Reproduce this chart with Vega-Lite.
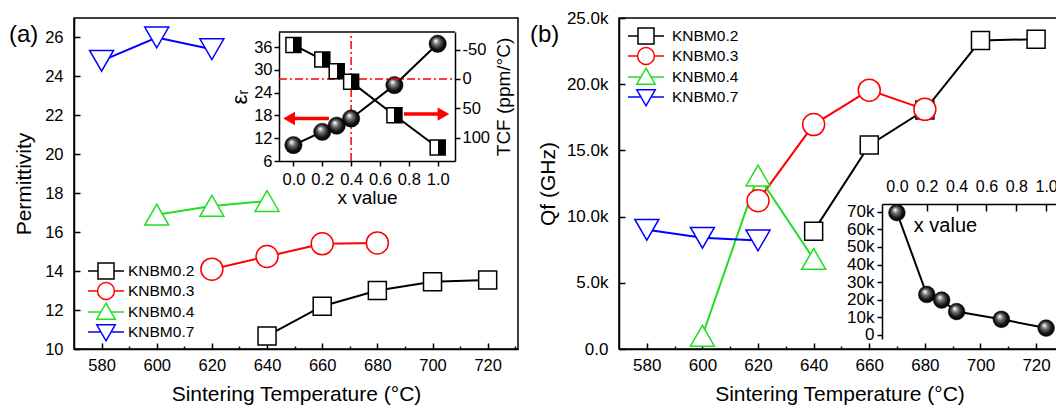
{
  "$schema": "https://vega.github.io/schema/vega-lite/v6.json",
  "padding": {"left": 8, "top": 8, "right": 0, "bottom": 0},
  "background": "white",
  "config": {
    "font": "Liberation Sans",
    "view": {"stroke": "black", "strokeWidth": 1.5},
    "axis": {"grid": false, "domainColor": "black", "domainWidth": 1.5, "tickColor": "black", "tickWidth": 1.5, "labelColor": "black", "titleColor": "black", "labelFont": "Liberation Sans", "titleFont": "Liberation Sans", "titleFontWeight": "normal", "labelFontSize": 16.5, "titleFontSize": 21, "labelOverlap": false, "labelFlush": false},
    "legend": {"labelFont": "Liberation Sans", "labelFontSize": 15.5, "labelColor": "black", "padding": 0, "symbolSize": 256, "rowPadding": -5, "symbolStrokeWidth": 1.5},
    "text": {"font": "Liberation Sans", "color": "black"}
  },
  "datasets": {
    "a": [
      {"s": "KNBM0.2", "T": 640, "v": 10.67}, {"s": "KNBM0.2", "T": 660, "v": 12.2}, {"s": "KNBM0.2", "T": 680, "v": 13.0}, {"s": "KNBM0.2", "T": 700, "v": 13.45}, {"s": "KNBM0.2", "T": 720, "v": 13.55},
      {"s": "KNBM0.3", "T": 620, "v": 14.1}, {"s": "KNBM0.3", "T": 640, "v": 14.75}, {"s": "KNBM0.3", "T": 660, "v": 15.4}, {"s": "KNBM0.3", "T": 680, "v": 15.45},
      {"s": "KNBM0.4", "T": 600, "v": 16.9}, {"s": "KNBM0.4", "T": 620, "v": 17.35}, {"s": "KNBM0.4", "T": 640, "v": 17.6},
      {"s": "KNBM0.7", "T": 580, "v": 24.8}, {"s": "KNBM0.7", "T": 600, "v": 26.0}, {"s": "KNBM0.7", "T": 620, "v": 25.4}
    ],
    "b": [
      {"s": "KNBM0.2", "T": 640, "v": 8900}, {"s": "KNBM0.2", "T": 660, "v": 15400}, {"s": "KNBM0.2", "T": 680, "v": 18050}, {"s": "KNBM0.2", "T": 700, "v": 23300}, {"s": "KNBM0.2", "T": 720, "v": 23400},
      {"s": "KNBM0.3", "T": 620, "v": 11200}, {"s": "KNBM0.3", "T": 640, "v": 16950}, {"s": "KNBM0.3", "T": 660, "v": 19550}, {"s": "KNBM0.3", "T": 680, "v": 18100},
      {"s": "KNBM0.4", "T": 600, "v": 1000}, {"s": "KNBM0.4", "T": 620, "v": 13100}, {"s": "KNBM0.4", "T": 640, "v": 6800},
      {"s": "KNBM0.7", "T": 580, "v": 9000}, {"s": "KNBM0.7", "T": 600, "v": 8400}, {"s": "KNBM0.7", "T": 620, "v": 8200}
    ],
    "insetA": [
      {"x": 0.0, "eps": 10.2, "tcf": -58}, {"x": 0.2, "eps": 13.7, "tcf": -33}, {"x": 0.3, "eps": 15.3, "tcf": -13},
      {"x": 0.4, "eps": 17.2, "tcf": 5}, {"x": 0.7, "eps": 26.0, "tcf": 62}, {"x": 1.0, "eps": 36.9, "tcf": 117}
    ],
    "insetB": [
      {"x": 0.0, "qf": 69500}, {"x": 0.2, "qf": 23000}, {"x": 0.3, "qf": 19800}, {"x": 0.4, "qf": 13300}, {"x": 0.7, "qf": 8900}, {"x": 1.0, "qf": 3900}
    ]
  },
  "hconcat": [
    {
      "width": 444, "height": 331,
      "layer": [
        {
          "data": {"name": "a"},
          "layer": [
            {
              "mark": {"type": "line", "strokeWidth": 2},
              "encoding": {
                "x": {"field": "T", "type": "quantitative", "scale": {"domain": [570, 731], "nice": false, "zero": false},
                  "axis": {"orient": "bottom", "values": [580, 600, 620, 640, 660, 680, 700, 720], "tickSize": -6, "labelPadding": 14, "title": "Sintering Temperature (°C)", "titlePadding": 10}},
                "y": {"field": "v", "type": "quantitative", "scale": {"domain": [10, 27], "nice": false, "zero": false},
                  "axis": {"orient": "left", "values": [10, 12, 14, 16, 18, 20, 22, 24, 26], "tickSize": -6, "labelPadding": 17, "title": "Permittivity", "titlePadding": 10}},
                "stroke": {"field": "s", "type": "nominal", "scale": {"domain": ["KNBM0.2", "KNBM0.3", "KNBM0.4", "KNBM0.7"], "range": ["#000000", "#ff0000", "#22dd22", "#0000ff"]}, "legend": null}
              }
            },
            {
              "mark": {"type": "point", "filled": true, "fill": "white", "strokeWidth": 1.5, "opacity": 1},
              "encoding": {
                "x": {"field": "T", "type": "quantitative", "scale": {"domain": [570, 731], "nice": false, "zero": false},
                  "axis": {"orient": "bottom", "values": [590, 610, 630, 650, 670, 690, 710, 730], "tickSize": -3, "labels": false, "domain": false, "title": null}},
                "y": {"field": "v", "type": "quantitative", "scale": {"domain": [10, 27], "nice": false, "zero": false}},
                "stroke": {"field": "s", "type": "nominal", "scale": {"domain": ["KNBM0.2", "KNBM0.3", "KNBM0.4", "KNBM0.7"], "range": ["#000000", "#ff0000", "#22dd22", "#0000ff"]}, "legend": null},
                "shape": {"field": "s", "type": "nominal", "scale": {"domain": ["KNBM0.2", "KNBM0.3", "KNBM0.4", "KNBM0.7"], "range": ["square", "circle", "triangle-up", "triangle-down"]}, "legend": null},
                "size": {"condition": [{"test": "datum.s === 'KNBM0.2'", "value": 324}, {"test": "datum.s === 'KNBM0.3'", "value": 484}], "value": 576}
              }
            },
            {
              "transform": [{"filter": "false"}],
              "mark": {"type": "point", "filled": true, "fill": "white", "strokeWidth": 1.5, "opacity": 1},
              "encoding": {
                "stroke": {"field": "s", "type": "nominal", "scale": {"domain": ["KNBM0.2", "KNBM0.3", "KNBM0.4", "KNBM0.7"], "range": ["#000000", "#ff0000", "#22dd22", "#0000ff"]},
                  "legend": {"title": null, "orient": "none", "legendX": 23, "legendY": 244, "labelOffset": 13, "symbolSize": 256, "rowPadding": -5, "padding": 0, "symbolStrokeWidth": 1.5}},
                "shape": {"field": "s", "type": "nominal", "scale": {"domain": ["KNBM0.2", "KNBM0.3", "KNBM0.4", "KNBM0.7"], "range": ["M-2.25,0H-1M1,0H2.25M-1,-1H1V1H-1Z", "M-2.25,0H-1.05M1.05,0H2.25M1.05,0A1.05,1.05,0,1,1,-1.05,0A1.05,1.05,0,1,1,1.05,0Z", "M-2.25,0H-0.63M0.63,0H2.25M0,-1.1L1.15,0.9H-1.15Z", "M-2.25,0H-0.63M0.63,0H2.25M0,1.1L1.15,-0.9H-1.15Z"]},
                  "legend": {"title": null, "orient": "none", "legendX": 23, "legendY": 244, "labelOffset": 13, "symbolSize": 256, "rowPadding": -5, "padding": 0, "symbolStrokeWidth": 1.5}}
              }
            },
            {
              "data": {"values": [{}]},
              "mark": {"type": "text", "text": "(a)", "fontSize": 24, "align": "left", "baseline": "alphabetic"},
              "encoding": {
                "x": {"datum": 546.4, "type": "quantitative", "scale": {"domain": [570, 731], "nice": false, "zero": false}, "axis": null},
                "y": {"datum": 25.77, "type": "quantitative"}
              }
            }
          ],
          "resolve": {"axis": {"x": "independent"}, "scale": {"stroke": "independent", "shape": "independent"}}
        },
        {
          "layer": [
            {
              "layer": [
                {"data": {"values": [{}]}, "mark": {"type": "rule", "color": "black", "strokeWidth": 1.5},
                  "encoding": {
                    "x": {"datum": -0.1, "type": "quantitative", "scale": {"domain": [-0.1, 1.12], "range": [205, 381], "nice": false, "zero": false},
                      "axis": {"orient": "bottom", "offset": -188, "values": [0, 0.2, 0.4, 0.6, 0.8, 1.0], "format": ".1f", "tickSize": 5, "labelPadding": 5, "title": "x value", "titleFontSize": 19, "titlePadding": 1}},
                    "x2": {"datum": 1.12},
                    "y": {"datum": 40, "type": "quantitative", "scale": {"domain": [6, 40], "range": [143, 14], "nice": false, "zero": false},
                      "axis": {"orient": "left", "offset": -205, "values": [6, 12, 18, 24, 30, 36], "tickSize": 5, "labelPadding": 2, "title": "εᵣ", "titleFontSize": 22, "titlePadding": 2}}
                  }},
                {"data": {"values": [{}]}, "mark": {"type": "rule", "color": "#ff0000", "strokeWidth": 1.5, "strokeDash": [8, 3, 2, 3]},
                  "encoding": {"x": {"datum": 0.4, "type": "quantitative"}, "y": {"datum": 6, "type": "quantitative"}, "y2": {"datum": 40}}},
                {"data": {"values": [{}]}, "mark": {"type": "rule", "color": "#ff0000", "strokeWidth": 3.5},
                  "encoding": {"x": {"datum": -0.02, "type": "quantitative"}, "x2": {"datum": 0.246}, "y": {"datum": 17.2, "type": "quantitative"}}},
                {"data": {"values": [{}]}, "mark": {"type": "point", "shape": "triangle-left", "filled": true, "color": "#ff0000", "size": 180, "opacity": 1},
                  "encoding": {"x": {"datum": -0.03, "type": "quantitative"}, "y": {"datum": 17.2, "type": "quantitative"}}},
                {"data": {"name": "insetA"}, "mark": {"type": "line", "color": "black", "strokeWidth": 2},
                  "encoding": {"x": {"field": "x", "type": "quantitative"}, "y": {"field": "eps", "type": "quantitative"}}},
                {"data": {"name": "insetA"}, "mark": {"type": "point", "shape": "circle", "filled": true, "opacity": 1, "stroke": "black", "strokeWidth": 0.5, "size": 300,
                  "fill": {"gradient": "radial", "x1": 0.38, "y1": 0.32, "r1": 0.02, "x2": 0.5, "y2": 0.5, "r2": 0.55, "stops": [{"offset": 0, "color": "#ffffff"}, {"offset": 0.3, "color": "#777777"}, {"offset": 0.7, "color": "#111111"}, {"offset": 1, "color": "#000000"}]}},
                  "encoding": {"x": {"field": "x", "type": "quantitative"}, "y": {"field": "eps", "type": "quantitative"}}}
              ]
            },
            {
              "layer": [
                {"data": {"values": [{}]}, "mark": {"type": "rule", "color": "#ff0000", "strokeWidth": 1.5, "strokeDash": [8, 3, 2, 3]},
                  "encoding": {
                    "x": {"datum": -0.1, "type": "quantitative"}, "x2": {"datum": 1.12},
                    "y": {"datum": 0, "type": "quantitative", "scale": {"domain": [-80, 140], "range": [14, 143], "nice": false, "zero": false},
                      "axis": {"orient": "right", "offset": -63, "values": [-50, 0, 50, 100], "labelExpr": "replace(datum.label, '−', '-')", "tickSize": 5, "labelPadding": 2, "title": "TCF (ppm/°C)", "titleFontSize": 19, "titleAngle": 270, "titlePadding": 24}}
                  }},
                {"data": {"values": [{}]}, "mark": {"type": "rule", "color": "#ff0000", "strokeWidth": 3.5},
                  "encoding": {"x": {"datum": 0.766, "type": "quantitative"}, "x2": {"datum": 1.04}, "y": {"datum": 60, "type": "quantitative"}}},
                {"data": {"values": [{}]}, "mark": {"type": "point", "shape": "triangle-right", "filled": true, "color": "#ff0000", "size": 180, "opacity": 1},
                  "encoding": {"x": {"datum": 1.04, "type": "quantitative"}, "y": {"datum": 60, "type": "quantitative"}}},
                {"data": {"name": "insetA"}, "mark": {"type": "line", "color": "black", "strokeWidth": 2},
                  "encoding": {"x": {"field": "x", "type": "quantitative"}, "y": {"field": "tcf", "type": "quantitative"}}},
                {"data": {"name": "insetA"}, "mark": {"type": "point", "shape": "square", "filled": true, "opacity": 1, "stroke": "black", "strokeWidth": 1.5, "size": 225,
                  "fill": {"gradient": "linear", "x1": 0, "y1": 0, "x2": 1, "y2": 0, "stops": [{"offset": 0, "color": "#ffffff"}, {"offset": 0.5, "color": "#ffffff"}, {"offset": 0.5, "color": "#000000"}, {"offset": 1, "color": "#000000"}]}},
                  "encoding": {"x": {"field": "x", "type": "quantitative"}, "y": {"field": "tcf", "type": "quantitative"}}}
              ]
            }
          ],
          "resolve": {"scale": {"y": "independent"}}
        }
      ],
      "resolve": {"scale": {"x": "independent", "y": "independent"}}
    },
    {
      "width": 441, "height": 331,
      "layer": [
        {
          "data": {"name": "b"},
          "layer": [
            {
              "mark": {"type": "line", "strokeWidth": 2},
              "encoding": {
                "x": {"field": "T", "type": "quantitative", "scale": {"domain": [570, 728.6], "nice": false, "zero": false},
                  "axis": {"orient": "bottom", "values": [580, 600, 620, 640, 660, 680, 700, 720], "tickSize": -6, "labelPadding": 14, "labelFontSize": 17, "title": "Sintering Temperature (°C)", "titlePadding": 10}},
                "y": {"field": "v", "type": "quantitative", "scale": {"domain": [0, 25000], "nice": false, "zero": false},
                  "axis": {"orient": "left", "values": [0, 5000, 10000, 15000, 20000, 25000], "labelExpr": "datum.value == 0 ? '0.0' : format(datum.value / 1000, '.1f') + 'k'", "tickSize": -6, "labelPadding": 17, "labelFontSize": 17, "title": "Qf (GHz)", "titlePadding": 8}},
                "stroke": {"field": "s", "type": "nominal", "scale": {"domain": ["KNBM0.2", "KNBM0.3", "KNBM0.4", "KNBM0.7"], "range": ["#000000", "#ff0000", "#22dd22", "#0000ff"]}, "legend": null}
              }
            },
            {
              "mark": {"type": "point", "filled": true, "fill": "white", "strokeWidth": 1.5, "opacity": 1},
              "encoding": {
                "x": {"field": "T", "type": "quantitative", "scale": {"domain": [570, 728.6], "nice": false, "zero": false},
                  "axis": {"orient": "bottom", "values": [590, 610, 630, 650, 670, 690, 710], "tickSize": -3, "labels": false, "domain": false, "title": null}},
                "y": {"field": "v", "type": "quantitative", "scale": {"domain": [0, 25000], "nice": false, "zero": false}},
                "stroke": {"field": "s", "type": "nominal", "scale": {"domain": ["KNBM0.2", "KNBM0.3", "KNBM0.4", "KNBM0.7"], "range": ["#000000", "#ff0000", "#22dd22", "#0000ff"]}, "legend": null},
                "shape": {"field": "s", "type": "nominal", "scale": {"domain": ["KNBM0.2", "KNBM0.3", "KNBM0.4", "KNBM0.7"], "range": ["square", "circle", "triangle-up", "triangle-down"]}, "legend": null},
                "size": {"condition": [{"test": "datum.s === 'KNBM0.2'", "value": 324}, {"test": "datum.s === 'KNBM0.3'", "value": 484}], "value": 576}
              }
            },
            {
              "transform": [{"filter": "false"}],
              "mark": {"type": "point", "filled": true, "fill": "white", "strokeWidth": 1.5, "opacity": 1},
              "encoding": {
                "stroke": {"field": "s", "type": "nominal", "scale": {"domain": ["KNBM0.2", "KNBM0.3", "KNBM0.4", "KNBM0.7"], "range": ["#000000", "#ff0000", "#22dd22", "#0000ff"]},
                  "legend": {"title": null, "orient": "none", "legendX": 18, "legendY": 9, "labelOffset": 17, "symbolSize": 256, "rowPadding": -5, "padding": 0, "symbolStrokeWidth": 1.5}},
                "shape": {"field": "s", "type": "nominal", "scale": {"domain": ["KNBM0.2", "KNBM0.3", "KNBM0.4", "KNBM0.7"], "range": ["M-2.25,0H-1M1,0H2.25M-1,-1H1V1H-1Z", "M-2.25,0H-1.05M1.05,0H2.25M1.05,0A1.05,1.05,0,1,1,-1.05,0A1.05,1.05,0,1,1,1.05,0Z", "M-2.25,0H-0.63M0.63,0H2.25M0,-1.1L1.15,0.9H-1.15Z", "M-2.25,0H-0.63M0.63,0H2.25M0,1.1L1.15,-0.9H-1.15Z"]},
                  "legend": {"title": null, "orient": "none", "legendX": 18, "legendY": 9, "labelOffset": 17, "symbolSize": 256, "rowPadding": -5, "padding": 0, "symbolStrokeWidth": 1.5}}
              }
            },
            {
              "data": {"values": [{}]},
              "mark": {"type": "text", "text": "(b)", "fontSize": 24, "align": "left", "baseline": "alphabetic"},
              "encoding": {
                "x": {"datum": 538.0, "type": "quantitative", "scale": {"domain": [570, 728.6], "nice": false, "zero": false}, "axis": null},
                "y": {"datum": 23187, "type": "quantitative"}
              }
            }
          ],
          "resolve": {"axis": {"x": "independent"}, "scale": {"stroke": "independent", "shape": "independent"}}
        },
        {
          "data": {"name": "insetB"},
          "layer": [
            {"mark": {"type": "line", "color": "black", "strokeWidth": 2},
              "encoding": {
                "x": {"field": "x", "type": "quantitative", "scale": {"domain": [-0.1, 1.093], "range": [263, 441], "nice": false, "zero": false},
                  "axis": {"orient": "top", "offset": -186, "values": [0, 0.2, 0.4, 0.6, 0.8, 1.0], "format": ".1f", "tickSize": -7, "labelPadding": 17, "labelFontSize": 16, "title": "x value", "titleFontSize": 20, "titleX": 326, "titleY": 21, "titleBaseline": "middle", "titleAlign": "center"}},
                "y": {"field": "qf", "type": "quantitative", "scale": {"domain": [-2300, 74400], "range": [321, 186], "nice": false, "zero": false},
                  "axis": {"orient": "left", "offset": -263, "values": [0, 10000, 20000, 30000, 40000, 50000, 60000, 70000], "labelExpr": "datum.value == 0 ? '0' : (datum.value / 1000) + 'k'", "tickSize": 5, "labelPadding": 3, "labelFontSize": 17, "title": null}}
              }},
            {"mark": {"type": "point", "shape": "circle", "filled": true, "opacity": 1, "stroke": "black", "strokeWidth": 0.5, "size": 280,
              "fill": {"gradient": "radial", "x1": 0.38, "y1": 0.32, "r1": 0.02, "x2": 0.5, "y2": 0.5, "r2": 0.55, "stops": [{"offset": 0, "color": "#ffffff"}, {"offset": 0.3, "color": "#777777"}, {"offset": 0.7, "color": "#111111"}, {"offset": 1, "color": "#000000"}]}},
              "encoding": {"x": {"field": "x", "type": "quantitative"}, "y": {"field": "qf", "type": "quantitative"}}}
          ]
        }
      ],
      "resolve": {"scale": {"x": "independent", "y": "independent"}}
    }
  ],
  "spacing": 10,
  "resolve": {"scale": {"stroke": "independent", "shape": "independent"}, "legend": {"stroke": "independent", "shape": "independent"}}
}
